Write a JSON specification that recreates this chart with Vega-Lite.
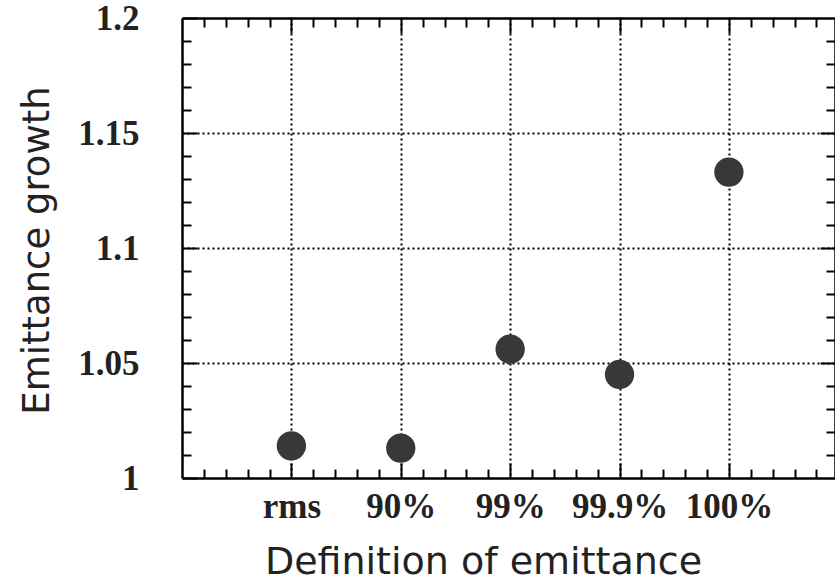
{
  "$schema": "https://vega.github.io/schema/vega-lite/v6.json",
  "width": 653,
  "height": 460,
  "autosize": {"type": "none"},
  "padding": {"left": 182, "top": 18, "right": 0, "bottom": 106},
  "background": "white",
  "config": {"view": {"stroke": null}},
  "data": {"values": [
    {"definition": "rms", "growth": 1.014},
    {"definition": "90%", "growth": 1.013},
    {"definition": "99%", "growth": 1.056},
    {"definition": "99.9%", "growth": 1.045},
    {"definition": "100%", "growth": 1.133}
  ]},
  "transform": [{"window": [{"op": "row_number", "as": "idx"}]}],
  "resolve": {"scale": {"x": "independent", "y": "independent"}},
  "layer": [
    {
      "mark": {"type": "point", "filled": true, "opacity": 1, "size": 860, "color": "#383838", "shape": "circle"},
      "encoding": {
        "x": {
          "field": "idx", "type": "quantitative",
          "scale": {"domain": [0, 5.97], "nice": false, "zero": false},
          "axis": {
            "orient": "bottom",
            "values": [0.2,0.4,0.6,0.8,1,1.2,1.4,1.6,1.8,2,2.2,2.4,2.6,2.8,3,3.2,3.4,3.6,3.8,4,4.2,4.4,4.6,4.8,5,5.2,5.4,5.6,5.8],
            "labelExpr": "datum.value == 1 ? 'rms' : datum.value == 2 ? '90%' : datum.value == 3 ? '99%' : datum.value == 4 ? '99.9%' : datum.value == 5 ? '100%' : ''",
            "labelFont": "Liberation Serif", "labelFontWeight": "bold", "labelFontSize": 35, "labelColor": "#222",
            "labelPadding": 26, "labelBaseline": "top",
            "tickColor": "black", "tickWidth": 2,
            "tickSize": {"condition": {"test": "abs(datum.value - round(datum.value)) < 0.001", "value": -15}, "value": -9},
            "domainColor": "black", "domainWidth": 2.5,
            "grid": true, "gridColor": "black", "gridWidth": 2, "gridDash": [2, 3],
            "gridOpacity": {"condition": {"test": "abs(datum.value - round(datum.value)) < 0.001", "value": 1}, "value": 0},
            "title": "Definition of emittance",
            "titleFont": "DejaVu Sans", "titleFontWeight": "normal", "titleFontSize": 38, "titleColor": "#222",
            "titleAnchor": "middle", "titleAlign": "center", "titleBaseline": "alphabetic", "titleX": 301, "titleY": 95
          }
        },
        "y": {
          "field": "growth", "type": "quantitative",
          "scale": {"domain": [1, 1.2], "nice": false, "zero": false},
          "axis": {
            "orient": "left",
            "values": [1,1.01,1.02,1.03,1.04,1.05,1.06,1.07,1.08,1.09,1.1,1.11,1.12,1.13,1.14,1.15,1.16,1.17,1.18,1.19,1.2],
            "format": "~g",
            "labelExpr": "abs(datum.value*20 - round(datum.value*20)) < 0.001 ? datum.label : ''",
            "labelFont": "Liberation Serif", "labelFontWeight": "bold", "labelFontSize": 35, "labelColor": "#222",
            "labelPadding": 58,
            "tickColor": "black", "tickWidth": 2,
            "tickSize": {"condition": {"test": "abs(datum.value*20 - round(datum.value*20)) < 0.001", "value": -15}, "value": -9},
            "domainColor": "black", "domainWidth": 2.5,
            "grid": true, "gridColor": "black", "gridWidth": 2, "gridDash": [2, 3],
            "gridOpacity": {"condition": {"test": "abs(datum.value*20 - round(datum.value*20)) < 0.001 && datum.value > 1.001 && datum.value < 1.199", "value": 1}, "value": 0},
            "title": "Emittance growth",
            "titleFont": "DejaVu Sans", "titleFontWeight": "normal", "titleFontSize": 37, "titleColor": "#222",
            "titleAngle": -90, "titleAlign": "center", "titleBaseline": "alphabetic", "titleX": -134, "titleY": 232
          }
        }
      }
    },
    {
      "mark": {"type": "point", "opacity": 0},
      "encoding": {
        "x": {
          "field": "idx", "type": "quantitative",
          "scale": {"domain": [0, 5.97], "nice": false, "zero": false},
          "axis": {
            "orient": "top",
            "values": [0.2,0.4,0.6,0.8,1,1.2,1.4,1.6,1.8,2,2.2,2.4,2.6,2.8,3,3.2,3.4,3.6,3.8,4,4.2,4.4,4.6,4.8,5,5.2,5.4,5.6,5.8],
            "labels": false, "grid": false, "title": null,
            "tickColor": "black", "tickWidth": 2,
            "tickSize": {"condition": {"test": "abs(datum.value - round(datum.value)) < 0.001", "value": -15}, "value": -9},
            "domainColor": "black", "domainWidth": 2.5
          }
        },
        "y": {
          "field": "growth", "type": "quantitative",
          "scale": {"domain": [1, 1.2], "nice": false, "zero": false},
          "axis": {
            "orient": "right",
            "values": [1.01,1.02,1.03,1.04,1.05,1.06,1.07,1.08,1.09,1.1,1.11,1.12,1.13,1.14,1.15,1.16,1.17,1.18,1.19],
            "labels": false, "grid": false, "title": null,
            "tickColor": "black", "tickWidth": 2,
            "tickSize": {"condition": {"test": "abs(datum.value*20 - round(datum.value*20)) < 0.001", "value": -15}, "value": -9},
            "domainColor": "black", "domainWidth": 2.5
          }
        }
      }
    }
  ]
}
